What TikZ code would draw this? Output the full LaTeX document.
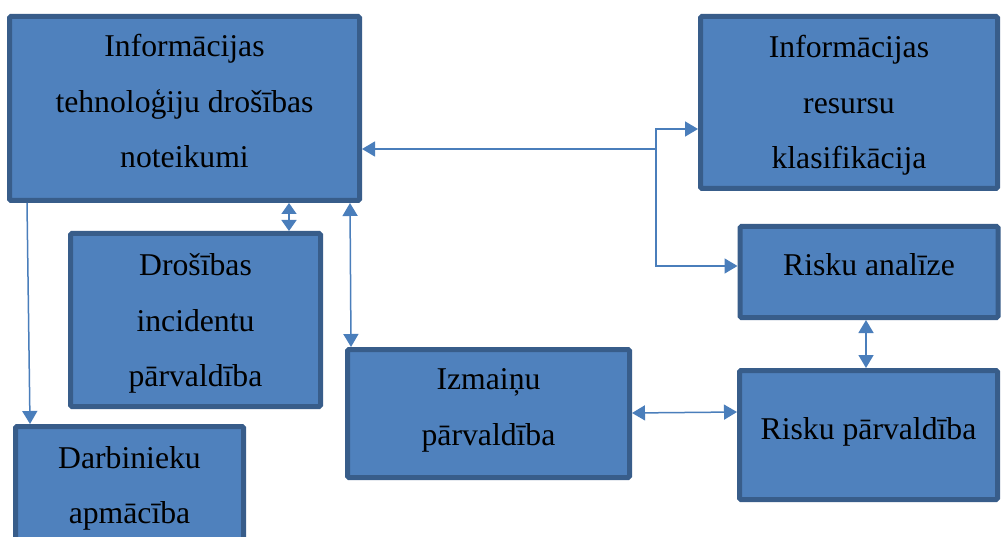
\documentclass[tikz,border=0pt]{standalone}
\usepackage{fontspec}
\setmainfont{Liberation Serif}
\usetikzlibrary{arrows.meta}
\definecolor{boxfill}{HTML}{4F81BD}
\definecolor{boxline}{HTML}{385D8A}
\definecolor{conn}{HTML}{4A7EBB}
\newcommand\stA{\rule[-20pt]{0pt}{48pt}}
\newcommand\stB{\rule[-8pt]{0pt}{38pt}}
\tikzset{
  box/.style={draw=boxline, fill=boxfill, line width=5pt, rounded corners=1.5pt,
    align=center, inner sep=2pt, font=\fontsize{31.7}{55.5}\selectfont, text=black},
  conn/.style={draw=conn, line width=1.5pt, >={Triangle[length=13pt,width=15pt]}},
  shortconn/.style={conn, >={Triangle[length=11pt,width=15pt]}},
}
\begin{document}
\begin{tikzpicture}[x=1pt,y=-1pt]
\useasboundingbox (0,0) rectangle (1001,537);
\clip (0,0) rectangle (1001,537);
\fill[white] (0,0) rectangle (1001,537);

\node[box, minimum width=350pt, minimum height=184pt] (b1) at (184.5,108.5)
  {\stA Informācijas\\tehnoloģiju drošības\\noteikumi\stA};
\node[box, minimum width=297pt, minimum height=172pt] (b2) at (849,102.5)
  {\stB Informācijas\\resursu\\klasifikācija\stB};
\node[box, minimum width=250pt, minimum height=173pt] (b3) at (195.5,320)
  {\stB Drošības\\incidentu\\pārvaldība\stB};
\node[box, minimum width=258pt, minimum height=91pt] (b4) at (869,272)
  {\stA Risku analīze};
\node[box, minimum width=282pt, minimum height=128pt] (b5) at (488.5,413.5)
  {\stA Izmaiņu\\pārvaldība\stA};
\node[box, minimum width=258pt, minimum height=129pt] (b6) at (868.5,435)
  {\stA Risku pārvaldība};
\node[box, minimum width=228pt, minimum height=131pt] (b7) at (129.5,492)
  {\stA Darbinieku\\apmācība\stA};

% connectors
\coordinate (j) at (656,149);
\draw[conn,->] (j) -- (b1.east |- j);
\draw[conn,->] (j) |- (b2.west |- 0,129);
\draw[conn,->] (j) |- (b4.west |- 0,266);
\draw[shortconn,<->] (b1.south -| 289,0) -- (b3.north -| 289,0);
\draw[conn,<->] (b1.south -| 350,0) -- (b5.north -| 351,0);
\draw[conn,->] (b1.south -| 27,0) -- (b7.north -| 30,0);
\draw[conn,<->] (b4.south -| 866,0) -- (b6.north -| 866,0);
\draw[conn,<->] (b5.east |- 0,413) -- (b6.west |- 0,412);
\end{tikzpicture}
\end{document}
